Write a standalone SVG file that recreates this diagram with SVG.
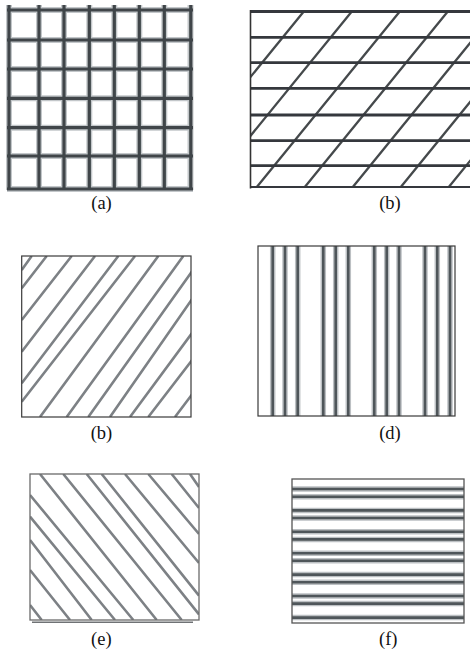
<svg xmlns="http://www.w3.org/2000/svg" width="470" height="653" viewBox="0 0 470 653">
<defs>
<style>
.lbl{font-family:"Liberation Serif","Times New Roman",serif;font-size:18.5px;fill:#111;text-anchor:middle}
.ga{stroke:#3f4548;stroke-width:3.2;fill:none}
.gah{stroke:#c3c7ca;stroke-width:6;fill:none}
.bh{stroke:#35393c;stroke-width:2.8;fill:none}
.bd{stroke:#45494c;stroke-width:2.3;fill:none}
.dg{stroke:#7d8185;stroke-width:2.6;fill:none}
.vd{stroke:#50565a;stroke-width:2.6;fill:none}
.vh{stroke:#bcc0c3;stroke-width:5.5;fill:none}
.fb{fill:none;stroke:#3a3a3a;stroke-width:1.2}
</style>
<filter id="soft" x="-5%" y="-5%" width="110%" height="110%"><feGaussianBlur stdDeviation="0.55"/></filter>
<clipPath id="cb"><rect x="250" y="10" width="222" height="178"/></clipPath>
<clipPath id="cm"><rect x="21.7" y="256" width="169.3" height="161"/></clipPath>
<clipPath id="ce"><rect x="30" y="474" width="169" height="146"/></clipPath>
</defs>
<rect width="470" height="653" fill="#fff"/>

<g id="panel-a">
<g filter="url(#soft)">
<g class="gah">
<path d="M9 5V190M39 5V190M64 5V190M89.3 5V190M114.3 5V190M139.3 5V190M164.3 5V190M190.5 5V190"/>
<path d="M7 10H193M7 40H193M7 69H193M7 98.3H193M7 127.7H193M7 156H193M7 189H193"/>
</g>
<g class="ga">
<path d="M9 5V190M39 5V190M64 5V190M89.3 5V190M114.3 5V190M139.3 5V190M164.3 5V190M190.8 5V190"/>
<path d="M7 10H193M7 40H193M7 69H193M7 98.3H193M7 127.7H193M7 156H193M7 189H193"/>
</g>
</g>
<text class="lbl" x="101.5" y="209">(a)</text>
</g>

<g id="panel-b1">
<g clip-path="url(#cb)" filter="url(#soft)">
<path class="bd" d="M305 10L160 188M353 10L208 188M401 10L256 188M449 10L304 188M497 10L352 188M545 10L400 188M593 10L448 188M641 10L496 188"/>
<path class="bh" d="M250 11.5H472M250 37.3H472M250 62.7H472M250 88.3H472M250 115H472M250 140.7H472M250 165.7H472M250 187.5H472"/>
</g>
<path d="M250.5 10V188.5" stroke="#333" stroke-width="1.6"/>
<text class="lbl" x="390" y="209">(b)</text>
</g>

<g id="panel-b2">
<g clip-path="url(#cm)" filter="url(#soft)" class="dg">
<path d="M31.7 256L21.7 270M46.7 256L21.7 288.3M71.7 256L21.7 320M95 256L21.7 351.7M118.3 256L21.7 383.3M135 256L21.7 401.7M158.3 256L40 417M183.3 256L66.7 417M203 256L88.3 417M222 256L110 417M249 256L130 417M272 256L148.3 417M296 256L175 417"/>
</g>
<rect class="fb" x="21.7" y="256" width="169.3" height="161"/>
<text class="lbl" x="101.5" y="439">(b)</text>
</g>

<g id="panel-d">
<g filter="url(#soft)">
<path class="vh" d="M272.7 246V416M285 246V416M297.7 246V416M323.3 246V416M335.7 246V416M348.3 246V416M374.3 246V416M386.7 246V416M399 246V416M425 246V416M437.3 246V416M450 246V416"/>
<path class="vd" d="M272.7 246V416M285 246V416M297.7 246V416M323.3 246V416M335.7 246V416M348.3 246V416M374.3 246V416M386.7 246V416M399 246V416M425 246V416M437.3 246V416M450 246V416"/>
</g>
<rect class="fb" x="258" y="246" width="197" height="170"/>
<text class="lbl" x="390" y="439">(d)</text>
</g>

<g id="panel-e">
<g clip-path="url(#ce)" filter="url(#soft)" class="dg">
<path d="M30 605L41.7 620M30 570L70 620M30 540L91.7 620M30 516.7L115 620M30 495L133.3 620M40 474L156.7 620M63.3 474L181.7 620M86.7 474L199 614.4M101.7 474L199 595.6M125 474L199 563M148.3 474L199 534M171.7 474L199 508M190 474L199 487"/>
</g>
<rect x="30" y="474" width="169" height="146" fill="none" stroke="#6a6a6a" stroke-width="1.3"/>
<path d="M32 622.3H193" stroke="#6f7275" stroke-width="1.6"/>
<text class="lbl" x="101.3" y="645">(e)</text>
</g>

<g id="panel-f">
<g filter="url(#soft)">
<path class="vh" d="M292 489H464M292 496.7H464M292 510.4H464M292 518H464M292 531.8H464M292 539.4H464M292 553.2H464M292 560.8H464M292 574.6H464M292 582.2H464M292 596H464M292 603.6H464M292 617.6H464"/>
<path class="vd" stroke-width="2.3" d="M292 489H464M292 496.7H464M292 510.4H464M292 518H464M292 531.8H464M292 539.4H464M292 553.2H464M292 560.8H464M292 574.6H464M292 582.2H464M292 596H464M292 603.6H464M292 617.6H464"/>
</g>
<rect x="292" y="479" width="172" height="144" fill="none" stroke="#555" stroke-width="1.3"/>
<text class="lbl" x="388.3" y="645">(f)</text>
</g>
</svg>
